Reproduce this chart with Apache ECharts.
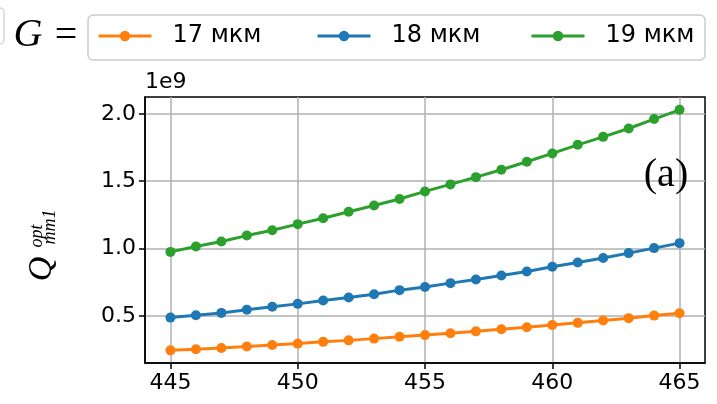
<!DOCTYPE html>
<html>
<head>
<meta charset="utf-8">
<script src="https://cdn.jsdelivr.net/npm/echarts@6/dist/echarts.min.js"></script>
<style>html,body{margin:0;padding:0;background:#fff}#c{width:717px;height:404px}</style>
</head>
<body>
<div id="c"></div>
<script>
// X values
var xValues = [445,446,447,448,449,450,451,452,453,454,455,456,457,458,459,460,461,462,463,464,465];
// Series values in units of 1e9
var series17 = [0.244,0.252,0.261,0.272,0.283,0.294,0.307,0.318,0.331,0.345,0.357,0.371,0.385,0.400,0.415,0.432,0.448,0.465,0.483,0.502,0.520];
var series18 = [0.487,0.505,0.522,0.545,0.567,0.589,0.614,0.636,0.661,0.691,0.714,0.743,0.770,0.800,0.829,0.864,0.896,0.929,0.966,1.003,1.040];
var series19 = [0.975,1.015,1.052,1.096,1.136,1.181,1.225,1.273,1.319,1.368,1.424,1.476,1.530,1.585,1.644,1.706,1.770,1.829,1.891,1.961,2.030];
var seriesNames = ['17 мкм','18 мкм','19 мкм'];
var xTicks = [445,450,455,460,465];
var yTicks = [0.5,1.0,1.5,2.0];

function pairs(ys){ return xValues.map(function(x,i){ return [x, ys[i]]; }); }

var colors = ['#ff7f0e','#1f77b4','#2ca02c'];
var tickFont = 'DejaVu Sans';
var serif = 'Liberation Serif';
var chart = echarts.init(document.getElementById('c'), null, {renderer:'canvas'});

function mkSeries(name, ys, color){
  return {
    name: name, type: 'line', data: pairs(ys),
    symbol: 'circle', symbolSize: 10, showSymbol: true,
    lineStyle: {color: color, width: 3},
    itemStyle: {color: color},
    emphasis: {disabled: true},
    animation: false, z: 3
  };
}
function mkLegend(name, left){
  return {
    data: [name], left: left, top: 24, padding: 0, orient: 'horizontal',
    itemWidth: 53, itemHeight: 13,
    lineStyle: {width: 3},
    textStyle: {fontFamily: tickFont, fontSize: 24, color: '#000', padding: [0,0,0,16]},
    selectedMode: false
  };
}
function txt(x, y, text, size, family, italic, align, rot){
  return {type: 'text', x: x, y: y, rotation: rot || 0, z: 5,
    style: {text: text, fontSize: size, fontFamily: family, fontStyle: italic ? 'italic' : 'normal',
      fill: '#000', align: align || 'center', verticalAlign: 'middle'}};
}

var option = {
  animation: false,
  backgroundColor: '#fff',
  grid: {left: 145, top: 97, width: 560, height: 266, show: true, borderColor: '#000', borderWidth: 1.5, backgroundColor: 'transparent'},
  legend: [mkLegend(seriesNames[0], 97), mkLegend(seriesNames[1], 316), mkLegend(seriesNames[2], 530)],
  xAxis: {
    type: 'value', min: 444, max: 466,
    axisLine: {show: true, lineStyle: {color: '#000', width: 1.5}},
    axisTick: {show: true, length: 6, lineStyle: {color: '#000', width: 1.5}, customValues: xTicks},
    axisLabel: {customValues: xTicks, fontFamily: tickFont, fontSize: 22, color: '#000', margin: 9},
    splitLine: {show: true, lineStyle: {color: '#b0b0b0', width: 1.5}}
  },
  yAxis: {
    type: 'value', min: 0.15, max: 2.125,
    axisLine: {show: true, lineStyle: {color: '#000', width: 1.5}},
    axisTick: {show: true, length: 6, lineStyle: {color: '#000', width: 1.5}, customValues: yTicks},
    axisLabel: {customValues: yTicks, fontFamily: tickFont, fontSize: 22, color: '#000', margin: 9,
      formatter: function(v){ return v.toFixed(1); }},
    splitLine: {show: true, lineStyle: {color: '#b0b0b0', width: 1.5}}
  },
  series: [mkSeries(seriesNames[0], series17, colors[0]), mkSeries(seriesNames[1], series18, colors[1]), mkSeries(seriesNames[2], series19, colors[2])],
  graphic: [
    {type: 'rect', x: -20, y: 8, shape: {width: 24, height: 36, r: 4}, style: {fill: '#fff', stroke: '#d8d8d8', lineWidth: 1.5}, z: 0},
    {type: 'rect', x: 88, y: 15, shape: {width: 617, height: 45, r: 5}, style: {fill: '#fff', stroke: '#cccccc', lineWidth: 1.5}, z: 0},
    txt(28, 35, 'G', 40, serif, true, 'center'),
    txt(66, 36, '=', 40, serif, false, 'center'),
    txt(145, 82, '1e9', 22, tickFont, false, 'left'),
    txt(666, 175, '(a)', 40, serif, false, 'center'),
    txt(42, 269, 'Q', 34, serif, true, 'center', Math.PI/2),
    txt(37, 236, 'opt', 18, serif, true, 'center', Math.PI/2),
    txt(50, 227, 'mm1', 18, serif, true, 'center', Math.PI/2)
  ]
};
chart.setOption(option);
</script>
</body>
</html>
